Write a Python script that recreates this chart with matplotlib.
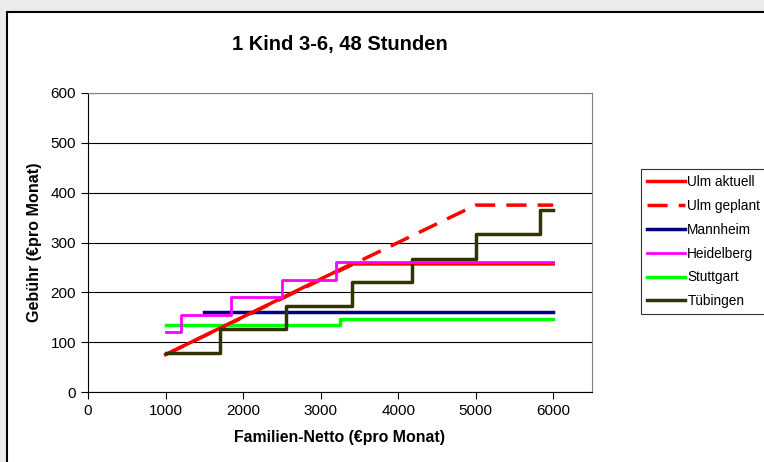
import matplotlib.pyplot as plt
from matplotlib.patches import Rectangle

# Ulm (linear ramp, capped)
ulm_akt_x = [1000, 3400, 6000]
ulm_akt_y = [75, 257, 257]
ulm_gep_x = [1000, 3400, 5000, 6000]
ulm_gep_y = [75, 255, 375, 375]

# step series: value holds from x[i] until x[i+1]
mannheim_x = [1500, 6000]
mannheim_y = [160, 160]
heidelberg_x = [1000, 1200, 1850, 2500, 3200, 6000]
heidelberg_y = [120, 155, 190, 225, 260, 260]
stuttgart_x = [1000, 3250, 6000]
stuttgart_y = [135, 147, 147]
tuebingen_x = [1000, 1700, 2550, 3400, 4175, 5000, 5830, 6000]
tuebingen_y = [78, 127, 173, 220, 267, 317, 365, 365]

plt.rcParams['font.family'] = ['Liberation Sans', 'DejaVu Sans']

fig = plt.figure(figsize=(7.64, 4.62), dpi=100)
fig.patch.set_facecolor('#ebebeb')
# white chart area with black frame, running off the right/bottom edges
fig.patches.append(Rectangle((7 / 764, -0.05), 1.1, 1 - 12 / 462 + 0.05,
                             transform=fig.transFigure, facecolor='white',
                             edgecolor='black', linewidth=1.5, zorder=-5))

ax = fig.add_axes([88 / 764, 70 / 462, 504 / 764, 299 / 462])
ax.set_facecolor('white')

ax.plot(ulm_gep_x, ulm_gep_y, color='#ff0000', lw=2.5, ls=(0, (5.8, 3.2)),
        label='Ulm geplant', zorder=3)
ax.plot(ulm_akt_x, ulm_akt_y, color='#ff0000', lw=2.5, label='Ulm aktuell', zorder=4)
ax.step(mannheim_x, mannheim_y, where='post', color='#000080', lw=2.5,
        label='Mannheim', zorder=3)
ax.step(heidelberg_x, heidelberg_y, where='post', color='#ff00ff', lw=2,
        label='Heidelberg', zorder=5)
ax.step(stuttgart_x, stuttgart_y, where='post', color='#00ff00', lw=2.5,
        label='Stuttgart', zorder=3)
ax.step(tuebingen_x, tuebingen_y, where='post', color='#333300', lw=2.5,
        label='Tübingen', zorder=4)

ax.set_xlim(0, 6500)
ax.set_ylim(0, 600)
ax.set_xticks(range(0, 7000, 1000))
ax.set_yticks(range(0, 700, 100))
ax.yaxis.grid(True, color='black', lw=0.8)
ax.set_axisbelow(True)
ax.tick_params(direction='out', length=5, width=0.8, labelsize=11, colors='black')
ax.spines['top'].set_color('#808080')
ax.spines['right'].set_color('#808080')

ax.set_title('1 Kind 3-6, 48 Stunden', fontsize=14.5, fontweight='bold', pad=31)
ax.set_xlabel('Familien-Netto (€pro Monat)', fontsize=11.4, fontweight='bold', labelpad=9)
ax.set_ylabel('Gebühr (€pro Monat)', fontsize=11.6, fontweight='bold', labelpad=6)

handles, labels = ax.get_legend_handles_labels()
order = ['Ulm aktuell', 'Ulm geplant', 'Mannheim', 'Heidelberg', 'Stuttgart', 'Tübingen']
hmap = dict(zip(labels, handles))
leg = fig.legend([hmap[k] for k in order], order, loc='upper left',
                 bbox_to_anchor=(641 / 764, 1 - 169 / 462), fontsize=9.8,
                 frameon=True, fancybox=False, edgecolor='black',
                 handlelength=2.8, handletextpad=0.15, labelspacing=0.72,
                 borderpad=0.45, borderaxespad=0)
leg.get_frame().set_linewidth(0.8)

fig.savefig('out.png', dpi=100, facecolor=fig.get_facecolor())
